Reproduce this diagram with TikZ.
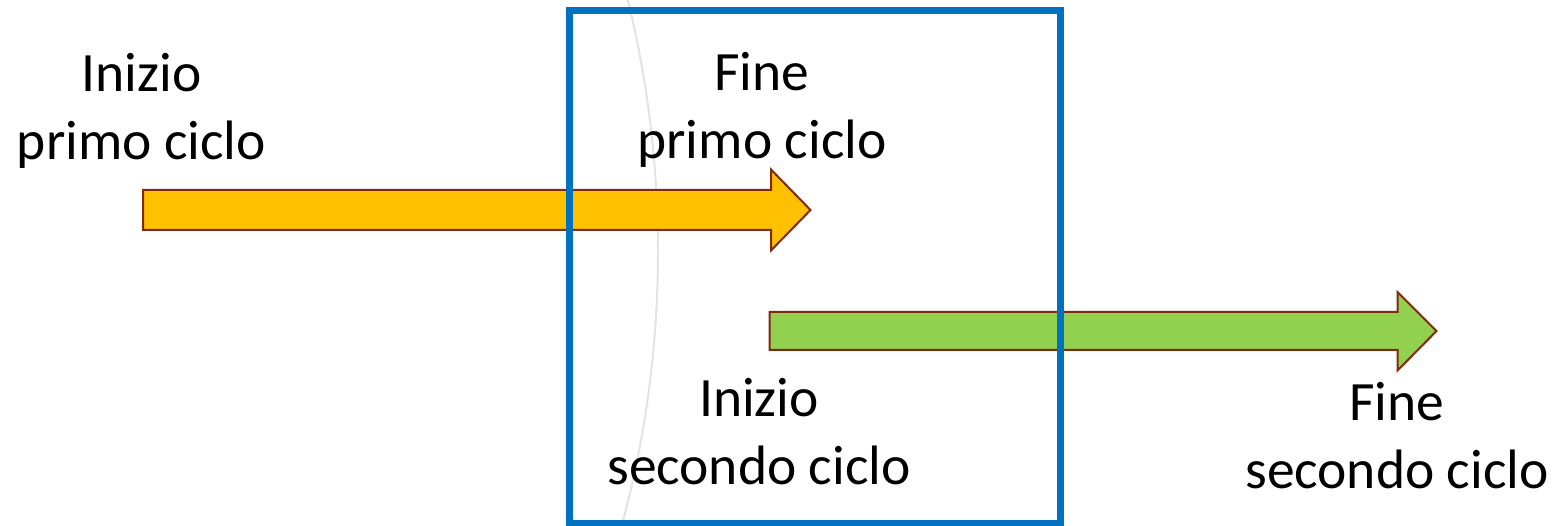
\documentclass[tikz,border=0pt]{standalone}
\usepackage{fontspec}
\setmainfont{Carlito}
\definecolor{boxblue}{HTML}{0070C0}
\definecolor{arryellow}{HTML}{FFC000}
\definecolor{arrgreen}{HTML}{92D050}
\definecolor{arredge}{HTML}{7F2A0C}
\definecolor{arcgrey}{HTML}{E3E3E3}
\begin{document}
\begin{tikzpicture}[x=1pt,y=-1pt,
  lbl/.style={align=center,inner sep=0pt,anchor=base,font=\fontsize{55.5pt}{68pt}\selectfont},
  arrowshape/.style={draw=arredge,line width=2pt,line join=miter}]
\useasboundingbox (0,0) rectangle (1555,526);
\begin{scope}
\clip (0,0) rectangle (1555,526);
\draw[arcgrey,line width=2pt] (-392,251) circle (1050pt);
\end{scope}
% yellow arrow
\filldraw[arrowshape,fill=arryellow] (143,190) -- (771,190) -- (771,169.5) -- (810.5,210) -- (771,250.5) -- (771,230) -- (143,230) -- cycle;
% green arrow
\filldraw[arrowshape,fill=arrgreen] (769.5,312) -- (1397.5,312) -- (1397.5,292) -- (1436.5,331) -- (1397.5,370.5) -- (1397.5,350) -- (769.5,350) -- cycle;
% blue box
\draw[boxblue,line width=7pt] (569.7,10.3) rectangle (1060.5,523);
% labels
\node[lbl] (ip) at (141.5,160) {Inizio\\primo ciclo};
\node[lbl] (fp) at (762,158.5) {Fine\\primo ciclo};
\node[lbl] (is) at (759,484.5) {Inizio\\secondo ciclo};
\node[lbl] (fs) at (1397,488.5) {Fine\\secondo ciclo};
\end{tikzpicture}
\end{document}
